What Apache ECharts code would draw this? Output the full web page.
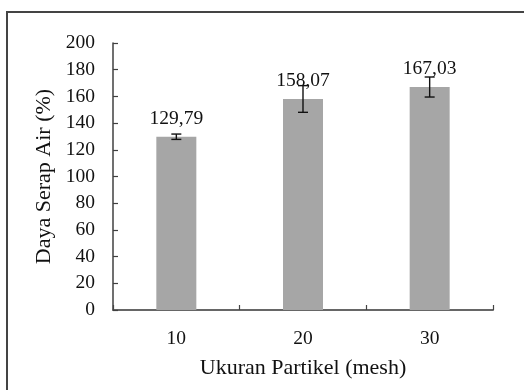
<!DOCTYPE html>
<html>
<head>
<meta charset="utf-8">
<script src="https://cdn.jsdelivr.net/npm/echarts@6/dist/echarts.min.js"></script>
<style>
  html, body { margin: 0; padding: 0; background: #fff; }
  #chart { width: 524px; height: 390px; }
</style>
</head>
<body>
<div id="chart"></div>
<script>
// Particle size (mesh) vs water absorption capacity
const categories = ['10', '20', '30'];
const values = [129.79, 158.07, 167.03];
const errors = [2, 10, 7.5];
const yTicks = [0, 20, 40, 60, 80, 100, 120, 140, 160, 180, 200];

const FONT = '"Liberation Serif", "Times New Roman", serif';
const AXIS_COLOR = '#404040';

const chart = echarts.init(document.getElementById('chart'), null, { renderer: 'canvas' });

const fmt = v => v.toFixed(2).replace('.', ',');

chart.setOption({
  backgroundColor: '#ffffff',
  animation: false,
  graphic: [{
    type: 'rect',
    shape: { x: 7, y: 12, width: 530, height: 400 },
    style: { fill: 'none', stroke: '#444', lineWidth: 2 },
    z: 0
  }],
  grid: { left: 113, right: 31, top: 43, bottom: 80 },
  xAxis: [{
    type: 'category',
    data: categories,
    name: 'Ukuran Partikel (mesh)',
    nameLocation: 'middle',
    nameGap: 47,
    nameTextStyle: { fontFamily: FONT, fontSize: 22, color: '#111' },
    axisLine: { lineStyle: { color: '#666', width: 2 } },
    axisTick: { show: true, inside: true, length: 5, lineStyle: { color: '#444', width: 1.2 } },
    axisLabel: { fontFamily: FONT, fontSize: 19.5, color: '#111', margin: 19 }
  }, {
    type: 'category',
    data: categories,
    position: 'bottom',
    axisLine: { show: false },
    axisTick: { show: true, inside: true, alignWithLabel: true, length: 4, lineStyle: { color: '#444', width: 1.2 } },
    axisLabel: { show: false }
  }],
  yAxis: {
    type: 'value',
    min: 0,
    max: 200,
    interval: 20,
    name: 'Daya Serap Air (%)',
    nameLocation: 'middle',
    nameGap: 57,
    nameTextStyle: { fontFamily: FONT, fontSize: 22, color: '#111' },
    splitLine: { show: false },
    axisLine: { show: true, lineStyle: { color: AXIS_COLOR, width: 1.5 } },
    axisTick: { show: true, inside: true, length: 5, lineStyle: { color: AXIS_COLOR, width: 1.2 } },
    axisLabel: {
      fontFamily: FONT, fontSize: 19.5, color: '#111', margin: 18,
      formatter: v => yTicks.includes(v) ? String(v) : ''
    }
  },
  series: [{
    type: 'bar',
    data: values,
    barWidth: 40,
    itemStyle: { color: '#a6a6a6' },
    label: {
      show: true,
      position: 'top',
      distance: 8,
      fontFamily: FONT,
      fontSize: 19.5,
      color: '#111',
      formatter: p => fmt(p.value)
    },
    z: 2
  }, {
    type: 'custom',
    data: values.map((v, i) => [i, v - errors[i], v + errors[i]]),
    renderItem: (params, api) => {
      const x = api.value(0);
      const lo = api.coord([x, api.value(1)]);
      const hi = api.coord([x, api.value(2)]);
      const cap = 5;
      const style = { stroke: '#111', lineWidth: 1.4 };
      return {
        type: 'group',
        children: [
          { type: 'line', shape: { x1: hi[0], y1: hi[1], x2: lo[0], y2: lo[1] }, style },
          { type: 'line', shape: { x1: hi[0] - cap, y1: hi[1], x2: hi[0] + cap, y2: hi[1] }, style },
          { type: 'line', shape: { x1: lo[0] - cap, y1: lo[1], x2: lo[0] + cap, y2: lo[1] }, style }
        ]
      };
    },
    encode: { x: 0, y: [1, 2] },
    z: 3
  }]
});
</script>
</body>
</html>
